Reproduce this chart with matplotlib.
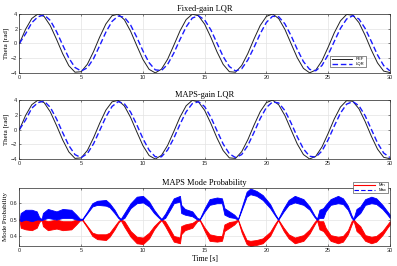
import matplotlib

matplotlib.use("Agg")
import matplotlib.pyplot as plt
import numpy as np

# time grid for the angle plots [s]
time_s = np.arange(0, 30.01, 0.5)

theta_ref = [
    0.00, 1.92, 3.37, 3.99, 3.64, 2.39, 0.56, -1.40, -3.03, -3.91,
    -3.84, -2.83, -1.12, 0.86, 2.63, 3.75, 3.96, 3.19, 1.65, -0.30,
    -2.18, -3.52, -4.00, -3.50, -2.15, -0.27, 1.68, 3.22, 3.96, 3.74,
    2.60, 0.83, -1.15, -2.85, -3.84, -3.91, -3.00, -1.37, 0.60, 2.42,
    3.65, 3.99, 3.35, 1.89, -0.04, -1.95, -3.39, -3.99, -3.62, -2.36,
    -0.53, 1.44, 3.05, 3.92, 3.82, 2.80, 1.08, -0.90, -2.65, -3.76,
    -3.95,
]

theta_fixed = [
    0.00, 1.30, 2.80, 3.60, 3.85, 3.10, 1.60, -0.22, -1.99, -3.27,
    -3.75, -3.31, -2.07, -0.31, 1.52, 2.98, 3.71, 3.53, 2.49, 0.84,
    -1.02, -2.62, -3.59, -3.68, -2.85, -1.33, 0.51, 2.22, 3.43, 3.74,
    3.17, 1.84, 0.03, -1.79, -3.14, -3.74, -3.44, -2.24, -0.54, 1.31,
    2.84, 3.67, 3.60, 2.64, 1.04, -0.81, -2.47, -3.52, -3.71, -3.00,
    -1.55, 0.27, 2.03, 3.30, 3.75, 3.29, 2.02, 0.26, -1.57, -3.01,
    -3.72,
]

theta_maps = [
    0.00, 1.30, 2.90, 3.65, 3.85, 3.00, 1.45, -0.41, -2.17, -3.40,
    -3.80, -3.26, -1.93, -0.13, 1.71, 3.13, 3.78, 3.49, 2.37, 0.66,
    -1.22, -2.79, -3.69, -3.69, -2.77, -1.18, 0.70, 2.40, 3.51, 3.77,
    3.11, 1.68, -0.16, -1.96, -3.28, -3.80, -3.39, -2.15, -0.38, 1.49,
    2.99, 3.74, 3.60, 2.57, 0.89, -0.98, -2.62, -3.62, -3.73, -2.91,
    -1.39, 0.48, 2.23, 3.44, 3.79, 3.22, 1.87, 0.03, -1.81, -3.18,
    -3.79,
]

# mode probability: noisy bands read as lower / upper envelope
prob_t = [
    0.0, 0.1, 0.5, 1.0, 1.4, 1.6, 1.8, 1.9, 2.3, 3.0, 3.5, 4.2, 4.6, 4.9,
    5.1, 5.5, 5.9, 6.3, 7.0, 7.3, 7.7, 8.0, 8.2, 8.5, 9.0, 9.5, 10.0, 10.5,
    10.9, 11.3, 11.5, 11.8, 12.2, 12.5, 13.0, 13.1, 13.4, 14.0, 14.4, 14.6,
    15.0, 15.4, 16.0, 16.4, 16.6, 17.0, 17.4, 17.7, 18.0, 18.4, 18.7, 19.2,
    19.7, 20.3, 20.7, 20.95, 21.4, 21.8, 22.3, 23.0, 23.5, 23.9, 24.1, 24.3,
    24.6, 24.8, 25.2, 25.8, 26.2, 26.6, 26.9, 27.05, 27.3, 27.6, 28.0, 28.5,
    28.9, 29.4, 29.8, 30.0,
]

max_lo = [
    0.500, 0.490, 0.500, 0.490, 0.500, 0.500, 0.497, 0.500, 0.510, 0.500, 0.510, 0.510, 0.500, 0.498,
    0.500, 0.540, 0.580, 0.590, 0.585, 0.575, 0.540, 0.510, 0.498, 0.510, 0.570, 0.600, 0.605, 0.580,
    0.540, 0.510, 0.498, 0.510, 0.560, 0.600, 0.610, 0.540, 0.530, 0.520, 0.500, 0.500,
    0.550, 0.590, 0.600, 0.600, 0.530, 0.515, 0.510, 0.500, 0.560, 0.640, 0.655, 0.645,
    0.620, 0.570, 0.525, 0.498, 0.550, 0.590, 0.605, 0.590, 0.560, 0.515, 0.498, 0.510,
    0.510, 0.550, 0.590, 0.600, 0.595, 0.560, 0.510, 0.498, 0.520, 0.540, 0.590, 0.600,
    0.595, 0.565, 0.530, 0.510,
]

max_hi = [
    0.500, 0.540, 0.560, 0.560, 0.550, 0.515, 0.503, 0.540, 0.565, 0.550, 0.565, 0.560, 0.530, 0.505,
    0.505, 0.550, 0.600, 0.615, 0.620, 0.600, 0.560, 0.520, 0.504, 0.540, 0.600, 0.640, 0.645, 0.610,
    0.560, 0.520, 0.504, 0.535, 0.590, 0.630, 0.645, 0.590, 0.565, 0.550, 0.510, 0.505,
    0.570, 0.625, 0.635, 0.630, 0.570, 0.550, 0.530, 0.505, 0.575, 0.670, 0.690, 0.675,
    0.650, 0.595, 0.535, 0.504, 0.570, 0.620, 0.645, 0.625, 0.580, 0.525, 0.505, 0.560,
    0.570, 0.590, 0.625, 0.645, 0.630, 0.585, 0.525, 0.505, 0.565, 0.580, 0.625, 0.640,
    0.630, 0.590, 0.550, 0.530,
]

min_lo = [
    0.500, 0.450, 0.440, 0.435, 0.450, 0.485, 0.497, 0.460, 0.435, 0.445, 0.435, 0.440, 0.470, 0.495,
    0.495, 0.450, 0.400, 0.380, 0.375, 0.395, 0.440, 0.480, 0.496, 0.455, 0.395, 0.355, 0.350, 0.385,
    0.440, 0.480, 0.496, 0.460, 0.405, 0.365, 0.355, 0.410, 0.435, 0.450, 0.490, 0.495,
    0.430, 0.370, 0.365, 0.370, 0.430, 0.450, 0.470, 0.495, 0.420, 0.350, 0.338, 0.345,
    0.355, 0.400, 0.460, 0.496, 0.430, 0.385, 0.355, 0.370, 0.415, 0.470, 0.495, 0.440,
    0.430, 0.410, 0.370, 0.355, 0.365, 0.410, 0.470, 0.495, 0.430, 0.410, 0.370, 0.355,
    0.365, 0.405, 0.450, 0.470,
]

min_hi = [
    0.500, 0.510, 0.500, 0.510, 0.500, 0.500, 0.503, 0.500, 0.490, 0.500, 0.490, 0.490, 0.500, 0.502,
    0.500, 0.460, 0.420, 0.410, 0.410, 0.420, 0.460, 0.490, 0.502, 0.490, 0.430, 0.395, 0.390, 0.420,
    0.460, 0.490, 0.502, 0.490, 0.440, 0.400, 0.390, 0.460, 0.470, 0.480, 0.500, 0.500,
    0.450, 0.410, 0.400, 0.400, 0.470, 0.485, 0.490, 0.500, 0.440, 0.375, 0.370, 0.375,
    0.385, 0.425, 0.475, 0.502, 0.450, 0.410, 0.390, 0.405, 0.440, 0.485, 0.502, 0.490,
    0.490, 0.450, 0.405, 0.395, 0.400, 0.435, 0.490, 0.502, 0.480, 0.460, 0.405, 0.395,
    0.400, 0.430, 0.470, 0.490,
]

x_ticks = [0, 5, 10, 15, 20, 25, 30]
theta_ticks = [-4, -2, 0, 2, 4]
prob_ticks = [0.4, 0.5, 0.6]

SERIF = "Liberation Serif"
SANS = "Liberation Sans"
BLUE = "#1a1aff"


def style_axes(ax):
    ax.set_xlim(0, 30)
    ax.set_xticks(x_ticks)
    ax.grid(True, color="#e3e3e3", linewidth=0.5)
    ax.set_axisbelow(True)
    ax.tick_params(direction="in", length=1.5, width=0.4, labelsize=4, pad=1.5,
                   top=True, right=True, colors="#262626")
    for lab in ax.get_xticklabels() + ax.get_yticklabels():
        lab.set_fontfamily(SANS)
    for spine in ax.spines.values():
        spine.set_linewidth(0.5)
        spine.set_color("#262626")


def theta_panel(ax, lqr, title, legend):
    ax.plot(time_s, theta_ref, color="#222222", linewidth=0.7, label="REF")
    ax.plot(time_s, lqr, color=BLUE, linewidth=1.0, dashes=(4, 2), label="LQR")
    ax.set_ylim(-4, 4)
    ax.set_yticks(theta_ticks)
    style_axes(ax)
    ax.set_title(title, fontfamily=SERIF, fontsize=6, pad=2)
    ax.set_ylabel("Theta [rad]", fontfamily=SERIF, fontsize=5, labelpad=1)
    if legend:
        ax.legend(loc="lower right", bbox_to_anchor=(0.94, 0.06),
                  frameon=True, fancybox=False, edgecolor="#333333", framealpha=1,
                  handlelength=5, borderpad=0.3, labelspacing=0.2,
                  prop={"family": SANS, "size": 3}).get_frame().set_linewidth(0.4)


def main():
    fig = plt.figure(figsize=(3.97, 2.66), dpi=100)
    ax1 = fig.add_axes([0.049, 0.726, 0.933, 0.222])
    ax2 = fig.add_axes([0.049, 0.402, 0.933, 0.222])
    ax3 = fig.add_axes([0.049, 0.075, 0.933, 0.220])

    theta_panel(ax1, theta_fixed, "Fixed-gain LQR", True)
    theta_panel(ax2, theta_maps, "MAPS-gain LQR", False)

    ax3.fill_between(prob_t, min_lo, min_hi, color="#ff0000", linewidth=0.6, edgecolor="#ff0000")
    ax3.fill_between(prob_t, max_lo, max_hi, color="#0000ff", linewidth=0.6, edgecolor="#0000ff")
    ax3.set_ylim(0.338, 0.696)
    ax3.set_yticks(prob_ticks)
    style_axes(ax3)
    ax3.set_title("MAPS Mode Probability", fontfamily=SERIF, fontsize=6, pad=2)
    ax3.set_ylabel("Mode Probability", fontfamily=SERIF, fontsize=5, labelpad=1)
    ax3.set_xlabel("Time [s]", fontfamily=SERIF, fontsize=5.5, labelpad=1)
    h_min, = ax3.plot([], [], color="#ff0000", linewidth=0.8, label="Min")
    h_max, = ax3.plot([], [], color="#0000ff", linewidth=0.8, dashes=(4, 2), label="Max")
    leg = ax3.legend(handles=[h_min, h_max], loc="upper right", bbox_to_anchor=(1.0, 1.13),
                     frameon=True, fancybox=False, edgecolor="#333333", framealpha=1,
                     handlelength=5, borderpad=0.3, labelspacing=0.2,
                     prop={"family": SANS, "size": 3})
    leg.get_frame().set_linewidth(0.4)

    fig.savefig("out.png", dpi=100)
    plt.close(fig)
    return 0


if __name__ == "__main__":
    raise SystemExit(main())
